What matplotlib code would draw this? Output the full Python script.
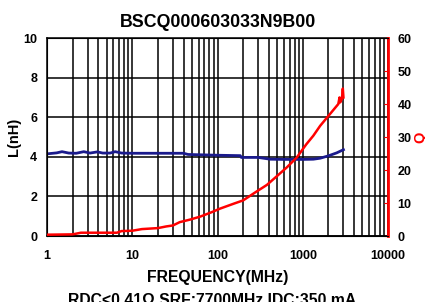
import numpy as np
import matplotlib
matplotlib.use('Agg')
import matplotlib.pyplot as plt
from matplotlib.ticker import LogLocator, FixedLocator, NullFormatter

plt.rcParams['font.family'] = ['Liberation Sans', 'DejaVu Sans']
plt.rcParams['font.weight'] = 'bold'

# Inductance curve (MHz, nH)
freq_l = [1, 1.3, 1.5, 1.8, 2.2, 2.7, 3.2, 3.9, 4.5, 5.5, 6.3, 7.5, 10, 20, 40,
          45, 100, 185, 190, 300, 415, 600, 1000, 1330, 1600, 2000, 2500, 3000]
ind_l = [4.15, 4.2, 4.26, 4.19, 4.18, 4.26, 4.19, 4.25, 4.19, 4.19, 4.26, 4.19, 4.18, 4.18, 4.18,
         4.12, 4.08, 4.06, 3.97, 3.97, 3.88, 3.87, 3.87, 3.88, 3.93, 4.05, 4.2, 4.36]

# Q curve (MHz, Q)
freq_q = [1, 2, 2.5, 6.6, 7.5, 10, 13, 20, 25, 30, 36, 48, 63, 85, 107, 155, 200,
          280, 380, 500, 650, 850, 1100, 1330, 1600, 2090, 2610, 2700, 2750, 2880, 2950, 3000]
q_vals = [0.4, 0.5, 1.0, 1.0, 1.5, 1.6, 2.1, 2.4, 2.9, 3.2, 4.2, 5.0, 5.9, 7.2, 8.3, 9.8, 10.8,
          13.3, 15.5, 18.2, 20.8, 23.8, 27.8, 30.4, 33.4, 37.0, 40.0, 42.0, 40.5, 41.6, 44.7, 42.0]

x_ticks = [1, 10, 100, 1000, 10000]
l_ticks = [0, 2, 4, 6, 8, 10]
q_ticks = [0, 10, 20, 30, 40, 50, 60]

fig = plt.figure(figsize=(4.25, 3.02), dpi=100)
ax = fig.add_axes([0.1106, 0.2185, 0.8024, 0.6555])

# grid: every minor decade line plus major L lines
ax.set_xscale('log')
ax.set_xlim(1, 10000)
ax.set_ylim(0, 10)
ax.xaxis.set_major_locator(FixedLocator(x_ticks))
ax.xaxis.set_minor_locator(LogLocator(base=10, subs=np.arange(2, 10)))
ax.xaxis.set_minor_formatter(NullFormatter())
ax.set_xticklabels([str(t) for t in x_ticks])
ax.set_yticks(l_ticks)
ax.grid(which='both', axis='x', color='black', linewidth=1.1)
ax.grid(which='major', axis='y', color='black', linewidth=1.1)
ax.tick_params(which='both', length=0, labelsize=9)
ax.tick_params(axis='x', pad=10)
ax.tick_params(axis='y', pad=7)
for s in ax.spines.values():
    s.set_linewidth(1.1)

ax.plot(freq_l, ind_l, color='#1a1a8c', linewidth=2.0, zorder=5)

ax.set_xlabel('FREQUENCY(MHz)', fontsize=11.3, fontweight='bold', labelpad=6)
ax.set_ylabel('L(nH)', fontsize=10.5, fontweight='bold', labelpad=2)
ax.set_title('BSCQ000603033N9B00', fontsize=12.8, fontweight='bold', pad=8)

# Q on right axis
ax2 = ax.twinx()
ax2.set_ylim(0, 60)
ax2.set_yticks(q_ticks)
ax2.plot(freq_q, q_vals, color='#ff0000', linewidth=1.8, zorder=6)
ax2.spines['right'].set_color('#ff0000')
ax2.spines['right'].set_linewidth(2.0)
ax2.tick_params(axis='y', direction='in', length=3, color='#ff0000', labelsize=9, pad=7)
ax2.set_ylabel('Q', color='#ff0000', fontsize=10.5, fontweight='bold', labelpad=1)

fig.text(0.5, 0.03, 'RDC<0.41\u03a9 SRF:7700MHz IDC:350 mA', ha='center', va='top',
         fontsize=11.3, fontweight='bold')

plt.savefig('out.png', dpi=100)
